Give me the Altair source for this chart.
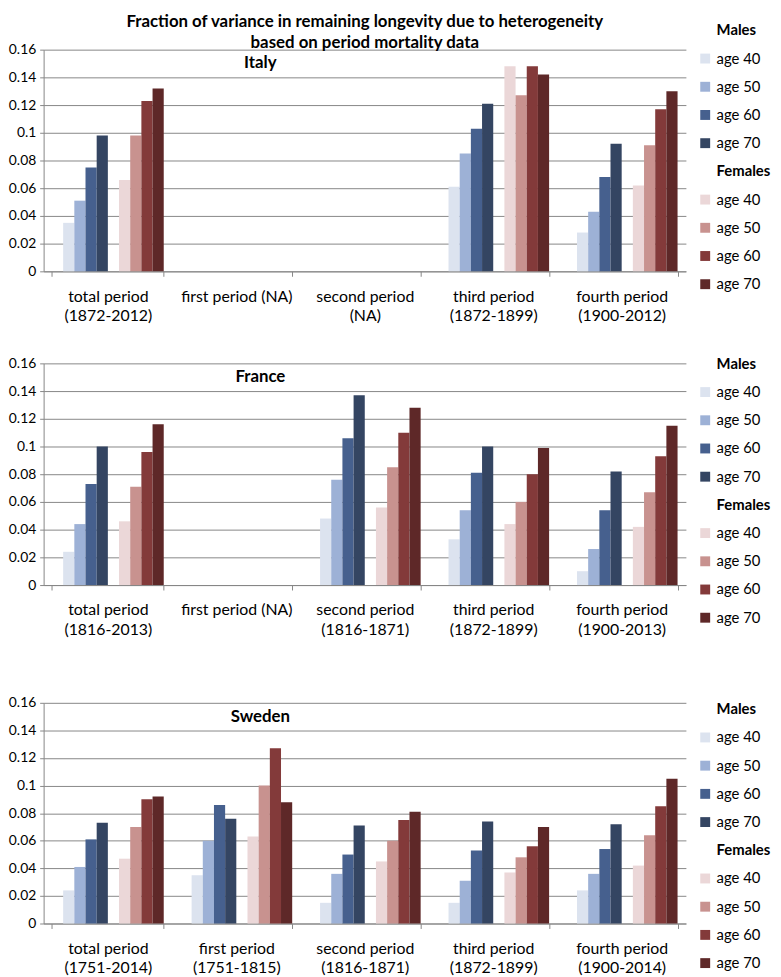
import altair as alt
import pandas as pd

FONT = "Lato"

TITLE_LINES = [
    "Fraction of variance in remaining longevity due to heterogeneity",
    "based on period mortality data",
]
AGES = ["40", "50", "60", "70"]
SERIES = ["Males", "M40", "M50", "M60", "M70", "Females", "F40", "F50", "F60", "F70"]
COLORS = ["#ffffff", "#dce3ef", "#9db1d6", "#46608e", "#344562",
          "#ffffff", "#ebd7d8", "#c8928f", "#833a3a", "#5e2828"]
Y_TICKS = [0, 0.02, 0.04, 0.06, 0.08, 0.1, 0.12, 0.14, 0.16]

# ---------------- Italy ----------------
ITALY_PERIODS = ["total period|(1872-2012)", "first period  (NA)", "second period|(NA)",
                 "third period|(1872-1899)", "fourth period|(1900-2012)"]
ITALY_MALES = {
    "40": [0.035, None, None, 0.061, 0.028],
    "50": [0.051, None, None, 0.085, 0.043],
    "60": [0.075, None, None, 0.103, 0.068],
    "70": [0.098, None, None, 0.121, 0.092],
}
ITALY_FEMALES = {
    "40": [0.066, None, None, 0.148, 0.062],
    "50": [0.098, None, None, 0.127, 0.091],
    "60": [0.123, None, None, 0.148, 0.117],
    "70": [0.132, None, None, 0.142, 0.130],
}

# ---------------- France ----------------
FRANCE_PERIODS = ["total period|(1816-2013)", "first period  (NA)", "second period|(1816-1871)",
                  "third period|(1872-1899)", "fourth period|(1900-2013)"]
FRANCE_MALES = {
    "40": [0.024, None, 0.048, 0.033, 0.010],
    "50": [0.044, None, 0.076, 0.054, 0.026],
    "60": [0.073, None, 0.106, 0.081, 0.054],
    "70": [0.100, None, 0.137, 0.100, 0.082],
}
FRANCE_FEMALES = {
    "40": [0.046, None, 0.056, 0.044, 0.042],
    "50": [0.071, None, 0.085, 0.060, 0.067],
    "60": [0.096, None, 0.110, 0.080, 0.093],
    "70": [0.116, None, 0.128, 0.099, 0.115],
}

# ---------------- Sweden ----------------
SWEDEN_PERIODS = ["total period|(1751-2014)", "first period|(1751-1815)", "second period|(1816-1871)",
                  "third period|(1872-1899)", "fourth period|(1900-2014)"]
SWEDEN_MALES = {
    "40": [0.024, 0.035, 0.015, 0.015, 0.024],
    "50": [0.041, 0.060, 0.036, 0.031, 0.036],
    "60": [0.061, 0.086, 0.050, 0.053, 0.054],
    "70": [0.073, 0.076, 0.071, 0.074, 0.072],
}
SWEDEN_FEMALES = {
    "40": [0.047, 0.063, 0.045, 0.037, 0.042],
    "50": [0.070, 0.100, 0.060, 0.048, 0.064],
    "60": [0.090, 0.127, 0.075, 0.056, 0.085],
    "70": [0.092, 0.088, 0.081, 0.070, 0.105],
}

GRAY = "#878787"
PLOT_W = 649


def panel(country, periods, males, females, legend_y, title=None, height=224):
    rows = []
    for i, p in enumerate(periods):
        for a in AGES:
            if males[a][i] is not None:
                rows.append({"period": p, "series": "M" + a, "value": males[a][i]})
            if females[a][i] is not None:
                rows.append({"period": p, "series": "F" + a, "value": females[a][i]})
    df = pd.DataFrame(rows)

    bars = alt.Chart(df).mark_bar().encode(
        x=alt.X("period:N", sort=periods,
                scale=alt.Scale(domain=periods, paddingInner=0.13, paddingOuter=0.065),
                axis=alt.Axis(title=None, labelAngle=0, labelExpr="split(datum.label, '|')",
                              tickBand="extent", grid=False, domainColor=GRAY, tickColor=GRAY,
                              tickSize=5, labelFont=FONT, labelFontSize=16, labelColor="black",
                              labelPadding=12, labelLineHeight=20)),
        xOffset=alt.XOffset("series:N", sort=SERIES,
                            scale=alt.Scale(domain=SERIES, paddingInner=0, paddingOuter=0)),
        y=alt.Y("value:Q", scale=alt.Scale(domain=[0, 0.16], nice=False),
                axis=alt.Axis(title=None, values=Y_TICKS, format=".2~f", gridColor=GRAY,
                              domainColor=GRAY, tickColor=GRAY, tickSize=4, labelFont=FONT,
                              labelFontSize=14, labelColor="black", labelPadding=4)),
        color=alt.Color("series:N",
                        scale=alt.Scale(domain=SERIES, range=COLORS),
                        legend=alt.Legend(
                            title=None, orient="none", legendX=PLOT_W + 12, legendY=legend_y,
                            symbolType="square", symbolSize=100, symbolStrokeWidth=0,
                            labelFont=FONT, labelFontSize=15, labelColor="black",
                            labelOffset=4, rowPadding=12.5, padding=0,
                            labelExpr="datum.label == 'Males' || datum.label == 'Females' ? datum.label : 'age ' + slice(datum.label, 1)",
                            labelFontWeight={"expr": "datum.label == 'Males' || datum.label == 'Females' ? 'bold' : 'normal'"},
                        )),
    )

    name = alt.Chart(pd.DataFrame({"country": [country]})).mark_text(
        font=FONT, fontSize=17, fontWeight="bold", align="center", baseline="middle", color="black"
    ).encode(text="country:N", x=alt.value(219), y=alt.value(14))

    props = dict(width=PLOT_W, height=height)
    if title is not None:
        props["title"] = alt.Title(text=title, font=FONT, fontSize=17, fontWeight="bold",
                                   anchor="middle", frame="group", lineHeight=21,
                                   color="black", offset=-29)
    return alt.layer(bars, name).properties(**props)


italy = panel("Italy", ITALY_PERIODS, ITALY_MALES, ITALY_FEMALES, -27, title=TITLE_LINES)
france = panel("France", FRANCE_PERIODS, FRANCE_MALES, FRANCE_FEMALES, -7)
sweden = panel("Sweden", SWEDEN_PERIODS, SWEDEN_MALES, SWEDEN_FEMALES, -1, height=223)

top = alt.vconcat(italy, france, spacing=33).resolve_scale(color="independent")
chart = (
    alt.vconcat(top, sweden, spacing=59)
    .resolve_scale(color="independent")
    .configure_view(stroke=None)
    .properties(padding={"left": 0, "top": 0, "right": 2, "bottom": 0})
)

chart.save("out.html", embed_options={"renderer": "svg", "actions": False})
